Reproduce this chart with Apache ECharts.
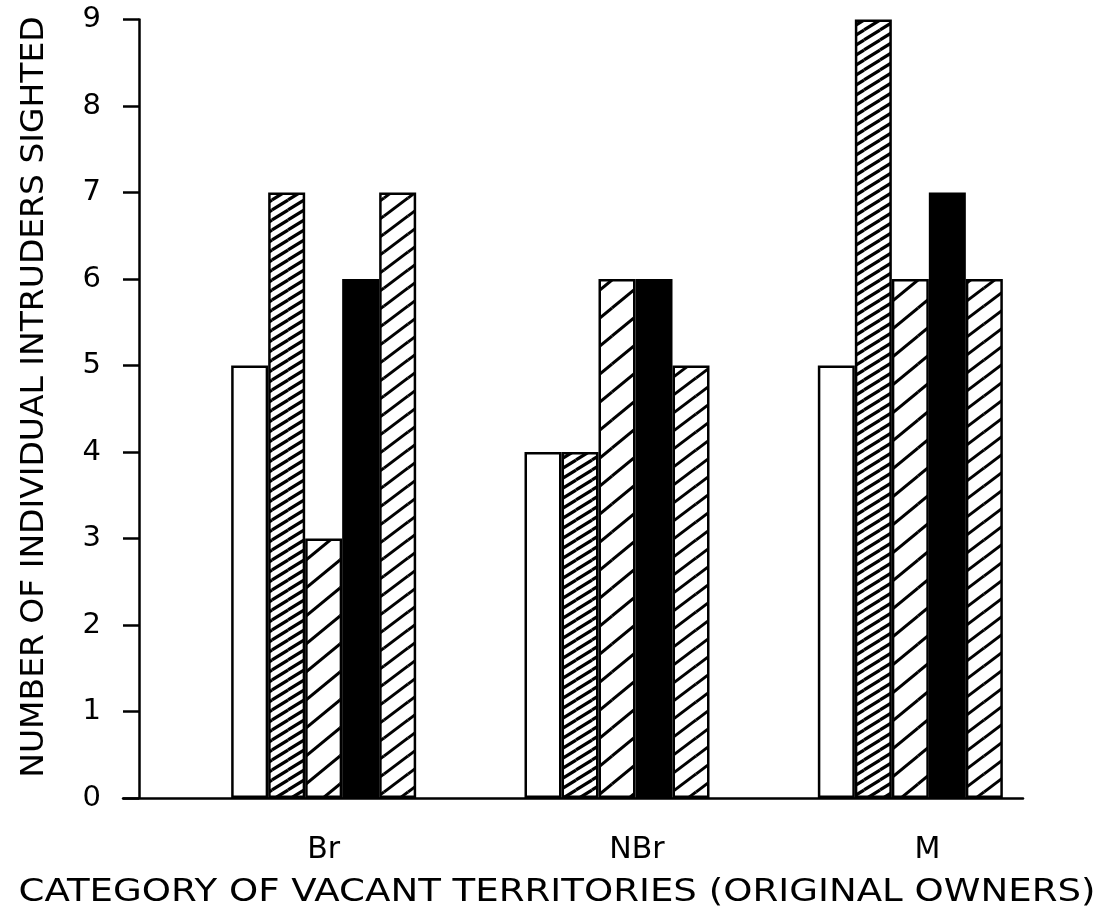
<!DOCTYPE html>
<html>
<head>
<meta charset="utf-8">
<script src="https://cdn.jsdelivr.net/npm/echarts@6/dist/echarts.min.js"></script>
<style>
  html, body { margin: 0; padding: 0; background: #fff; }
  #chart { width: 1104px; height: 924px; }
</style>
</head>
<body>
<div id="chart"></div>
<script>
// ---- data ----
const categories = ['Br', 'NBr', 'M'];
const seriesOpen = [5, 4, 5];
const seriesDenseHatch = [7, 4, 9];
const seriesWideHatch = [3, 6, 6];
const seriesSolid = [6, 6, 7];
const seriesMediumHatch = [7, 5, 6];
const yTicks = [0, 1, 2, 3, 4, 5, 6, 7, 8, 9];
const yTitle = 'NUMBER OF INDIVIDUAL INTRUDERS SIGHTED';
const xTitle = 'CATEGORY OF VACANT TERRITORIES (ORIGINAL OWNERS)';

// ---- hatch patterns ----
function hatch(w, h, lw) {
  const c = document.createElement('canvas');
  c.width = w; c.height = h;
  const g = c.getContext('2d');
  g.fillStyle = '#fff';
  g.fillRect(0, 0, w, h);
  g.strokeStyle = '#000';
  g.lineWidth = lw;
  g.lineCap = 'butt';
  for (let k = -1; k <= 1; k++) {
    for (let r = -1; r <= 1; r++) {
      g.beginPath();
      g.moveTo(k * w, h + r * h);
      g.lineTo(k * w + w, r * h);
      g.stroke();
    }
  }
  return { image: c, repeat: 'repeat' };
}

const border = { borderColor: '#000', borderWidth: 2.5 };
const fills = [
  '#fff',
  hatch(16, 10, 3.2),
  hatch(34, 28, 3),
  '#000',
  hatch(24, 18, 3)
];
const values = [seriesOpen, seriesDenseHatch, seriesWideHatch, seriesSolid, seriesMediumHatch];

const chart = echarts.init(document.getElementById('chart'), null, { renderer: 'canvas' });
const font = 'DejaVu Sans';

const option = {
  animation: false,
  backgroundColor: '#fff',
  textStyle: { fontFamily: font, color: '#000' },
  grid: [
    { left: 177, right: 47, top: 19.5, bottom: 126, containLabel: false },
    { left: 123, right: 81, top: 19.5, bottom: 126, containLabel: false }
  ],
  xAxis: [
    {
      type: 'category', gridIndex: 0, data: categories,
      axisLine: { show: false }, axisTick: { show: false },
      axisLabel: {
        fontSize: 30, color: '#000', fontFamily: font, margin: 37,
        formatter: function (v, i) { return ['{a|' + v + '}', '{b|' + v + '}', '{c|' + v + '}'][i]; },
        rich: {
          a: { fontSize: 30, fontFamily: font, color: '#000', padding: [0, 0, 0, 0] },
          b: { fontSize: 30, fontFamily: font, color: '#000', padding: [0, 0, 0, 40] },
          c: { fontSize: 30, fontFamily: font, color: '#000', padding: [0, 0, 0, 34] }
        }
      },
      splitLine: { show: false }
    },
    {
      type: 'value', gridIndex: 1, min: 0, max: 1,
      axisLine: { show: true, lineStyle: { color: '#000', width: 2.5 } },
      axisTick: { show: false }, axisLabel: { show: false }, splitLine: { show: false }
    }
  ],
  yAxis: [
    {
      type: 'value', gridIndex: 0, min: 0, max: 9, interval: 1, offset: 38,
      axisLine: { show: true, lineStyle: { color: '#000', width: 2.5 } },
      axisTick: { show: true, inside: false, length: 16, lineStyle: { color: '#000', width: 2.5 } },
      axisLabel: {
        fontSize: 29, color: '#000', fontFamily: font, margin: 38,
        formatter: function (v) { return yTicks.indexOf(v) >= 0 ? String(v) : ''; }
      },
      splitLine: { show: false }
    },
    { type: 'value', gridIndex: 1, show: false, min: 0, max: 1 }
  ],
  series: values.map(function (d, i) {
    return {
      type: 'bar', xAxisIndex: 0, yAxisIndex: 0,
      data: d, barWidth: 37, barGap: '0%',
      itemStyle: Object.assign({ color: fills[i] }, border)
    };
  }),
  graphic: [
    {
      type: 'text', x: 35, y: 397, rotation: Math.PI / 2, scaleX: 1.03,
      style: { text: yTitle, font: '32px "DejaVu Sans"', fill: '#000', align: 'center', verticalAlign: 'middle' }
    },
    {
      type: 'text', x: 557, y: 893, scaleX: 1.16,
      style: { text: xTitle, font: '32px "DejaVu Sans"', fill: '#000', align: 'center', verticalAlign: 'middle' }
    }
  ]
};
chart.setOption(option);
</script>
</body>
</html>
